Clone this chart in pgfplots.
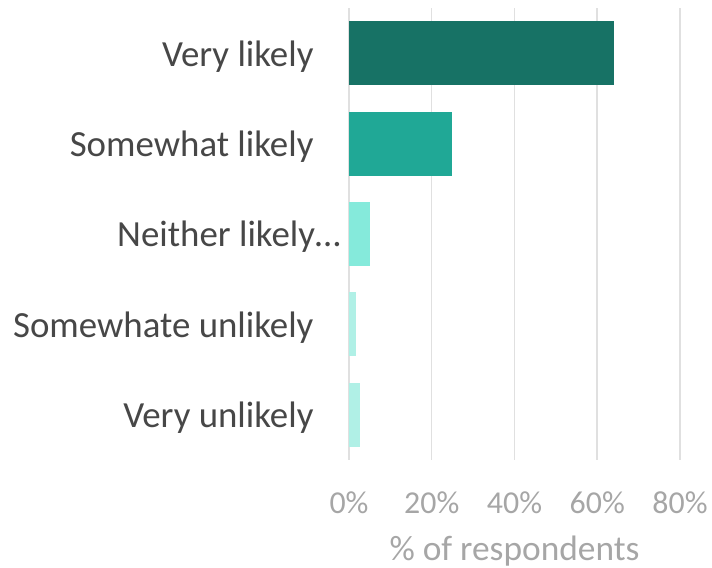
\documentclass[border=0pt]{standalone}
\usepackage{pgfplots}
\pgfplotsset{compat=1.18}
\usepackage{fontspec}
\setmainfont{Carlito}
\definecolor{c1}{HTML}{177265}
\definecolor{c2}{HTML}{20A896}
\definecolor{c3}{HTML}{85EADB}
\definecolor{c4}{HTML}{B0F0E6}
\definecolor{gridgray}{HTML}{E0E0E0}
\definecolor{tickgray}{HTML}{A6A6A6}
\definecolor{labgray}{HTML}{474747}
\begin{document}
\begin{tikzpicture}
\useasboundingbox (-349bp,-108bp) rectangle (363bp,460bp);
\begin{axis}[
  at={(0,0)}, anchor=south west,
  scale only axis, width=331bp, height=452bp,
  xmin=0, xmax=80, ymin=-0.5, ymax=4.5, y dir=reverse,
  xbar, bar width=0.71, bar shift=0pt,
  axis line style={draw=none}, major tick length=0pt,
  xmajorgrids, grid style={color=gridgray, line width=1.5bp},
  xtick={0,20,40,60,80}, xticklabels={0\%,20\%,40\%,60\%,80\%},
  ytick={0,1,2,3,4},
  yticklabels={Very likely\hspace*{27bp},Somewhat likely\hspace*{27bp},Neither likely…,Somewhate unlikely\hspace*{27bp},Very unlikely\hspace*{27bp}},
  xticklabel style={font=\fontsize{32}{38}\selectfont, text=tickgray, anchor=base, yshift=-53bp},
  yticklabel style={font=\fontsize{37}{44}\selectfont, text=labgray, anchor=east, xshift=-5bp, yshift=-3bp},
  xlabel={\% of respondents},
  xlabel style={font=\fontsize{35.5}{42}\selectfont, text=tickgray, at={(axis description cs:0.5,0)}, anchor=base, yshift=-100bp},
]
\addplot[fill=c1, draw=none] coordinates {(64,0)};
\addplot[fill=c2, draw=none] coordinates {(25,1)};
\addplot[fill=c3, draw=none] coordinates {(5.1,2)};
\addplot[fill=c4, draw=none] coordinates {(1.7,3)};
\addplot[fill=c4, draw=none] coordinates {(2.7,4)};
\end{axis}
\end{tikzpicture}
\end{document}
